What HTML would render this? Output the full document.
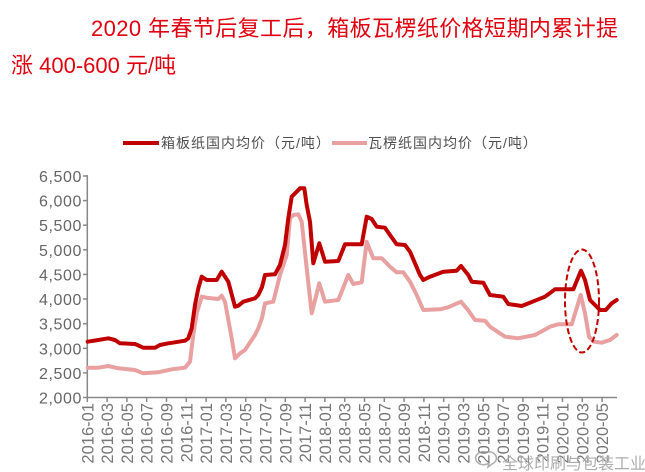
<!DOCTYPE html>
<html><head><meta charset="utf-8">
<style>
html,body{margin:0;padding:0;background:#fff;}
body{width:645px;height:472px;overflow:hidden;position:relative;}
svg{position:absolute;left:0;top:0;}
</style></head>
<body>
<svg width="645" height="472" viewBox="0 0 645 472" xmlns="http://www.w3.org/2000/svg">
<g font-family="Liberation Sans, Noto Sans CJK SC, sans-serif" fill="#e00010" font-size="22">
<text x="91" y="36" letter-spacing="0.4">2020 年春节后复工后，箱板瓦楞纸价格短期内累计提</text>
<text x="11" y="73">涨 400-600 元/吨</text>
</g>
<!-- legend -->
<line x1="123" y1="143" x2="159" y2="143" stroke="#c00000" stroke-width="4"/>
<text x="161" y="148" font-family="Liberation Sans, Noto Sans CJK SC, sans-serif" font-size="14" letter-spacing="1" fill="#505050">箱板纸国内均价（元/吨）</text>
<line x1="332" y1="143" x2="367" y2="143" stroke="#e8a0a0" stroke-width="4"/>
<text x="368" y="148" font-family="Liberation Sans, Noto Sans CJK SC, sans-serif" font-size="14" letter-spacing="1" fill="#505050">瓦楞纸国内均价（元/吨）</text>
<!-- y axis -->
<g font-family="Liberation Sans, sans-serif" font-size="16" fill="#666" text-anchor="end" letter-spacing="0.6">
<text x="82" y="182">6,500</text>
<text x="82" y="206.6">6,000</text>
<text x="82" y="231.2">5,500</text>
<text x="82" y="255.8">5,000</text>
<text x="82" y="280.4">4,500</text>
<text x="82" y="305">4,000</text>
<text x="82" y="329.7">3,500</text>
<text x="82" y="354.3">3,000</text>
<text x="82" y="378.9">2,500</text>
<text x="82" y="403.5">2,000</text>
</g>
<g stroke="#888" stroke-width="1.5">
<line x1="87.3" y1="175" x2="87.3" y2="398"/>
<line x1="87.3" y1="397.5" x2="617" y2="397.5"/>
<line x1="83" y1="176" x2="87.3" y2="176"/>
<line x1="83" y1="200.6" x2="87.3" y2="200.6"/>
<line x1="83" y1="225.2" x2="87.3" y2="225.2"/>
<line x1="83" y1="249.8" x2="87.3" y2="249.8"/>
<line x1="83" y1="274.4" x2="87.3" y2="274.4"/>
<line x1="83" y1="299" x2="87.3" y2="299"/>
<line x1="83" y1="323.7" x2="87.3" y2="323.7"/>
<line x1="83" y1="348.3" x2="87.3" y2="348.3"/>
<line x1="83" y1="372.9" x2="87.3" y2="372.9"/>
<line x1="83" y1="397.5" x2="87.3" y2="397.5"/>
</g>
<g id="xt" stroke="#888" stroke-width="1.5"></g>
<g id="xl" font-family="Liberation Sans, sans-serif" font-size="16.5" fill="#777" text-anchor="end"></g>
<!-- series -->
<polyline fill="none" stroke="#e8a0a0" stroke-width="4" stroke-linejoin="round" stroke-linecap="round" points="87.7,367.7 98.3,367.7 108.3,366 118.3,368.3 135,370 143.3,373.3 158.3,372.3 171.7,369.3 185,367.7 190,361.7 193.3,335 196.7,313.3 201.7,296.7 206.7,297.7 218.3,299 221.7,295.7 225,301.7 231.7,338.3 235,358.3 240,353.3 245,350 255,335 258.3,328.3 262,318 265,303.3 273.3,301.7 280,275 286.7,255 290,218.3 293.3,215 298.3,214.3 301.7,221.7 306.7,268.3 311.7,313.3 319.3,283.3 325,301.7 338.3,300 348.3,275 353.3,284 361.7,282.3 366.7,241.7 373.3,258.3 381.7,258.3 390,266.7 396.7,272.3 403.3,272.3 410,281.7 416.7,295 423.3,310 440,309.3 448,307.3 461,301.7 468,310 475,320 485,320.7 490,326.7 505,336.7 518,338.3 535,335 550,326.7 558,324.3 571.7,324.3 580.7,295 585,313.3 589,336.7 594,341.7 601.7,342.7 610,340 616.7,335"/>
<polyline fill="none" stroke="#c00000" stroke-width="4" stroke-linejoin="round" stroke-linecap="round" points="87.7,341.7 98.3,340 108.3,338.3 115,340 120,343.3 135,344 143.3,347.7 155,347.7 160,345 168.3,343.3 175,342.3 185,340.7 188.3,338.3 191.7,328.3 195,305 198.3,288.3 201.7,276.7 206.7,280 216.7,280 221.7,271.7 228.3,281.7 235,306.7 238.3,305.7 243.3,301.7 255,298.3 258.3,295 262,287 265,275 275,274.3 280,265 285,245 288.3,218.3 291.7,196.7 296.7,191.7 300,188.3 304.3,188.3 306.7,205 310,221.7 313.3,263.3 319.3,243.3 325,261.7 338.3,261 345,244.3 361.7,244.3 366.7,216.7 371.7,219 376.7,226.7 385,227.7 390,235 396.7,244.3 405,245 410,251.7 415,263.3 420,275 423.3,280 430,276.7 443.3,271.7 456.7,270.7 461,266 468.3,275 471.7,281.7 483.3,282.7 490,295 503.3,296.7 508.3,304 521.7,306 535,300.7 545,296.7 555,289.3 573.3,289.3 581,270.7 585,280 590,300 595,305 600,310 605.7,310 611.7,303.3 616.7,300"/>
<ellipse cx="582" cy="301" rx="17" ry="51.5" fill="none" stroke="#c00000" stroke-width="2" stroke-dasharray="6 3"/>
<!-- watermark -->
<g opacity="0.8">
<path d="M486,452 a8,6.5 0 1,0 3,11 l-1,4 l4,-3 a8,6.5 0 0,0 -6,-12z" fill="none" stroke="#999" stroke-width="1.5"/>
<text x="502" y="469" font-family="Liberation Sans, Noto Sans CJK SC, sans-serif" font-size="16" fill="#999" stroke="#fff" stroke-width="0.6" paint-order="stroke">全球印刷与包装工业</text>
</g>
</svg>
<script>
(function(){
var ns="http://www.w3.org/2000/svg";
var xt=document.getElementById('xt'), xl=document.getElementById('xl');
var i=0;
for(var y=2016;y<=2020;y++){
 for(var m=1;m<=11;m+=2){
  if(y===2020 && m>5) break;
  var x=87.3+i*19.8;
  var l=document.createElementNS(ns,'line');
  l.setAttribute('x1',x);l.setAttribute('x2',x);l.setAttribute('y1',397.5);l.setAttribute('y2',402);
  xt.appendChild(l);
  var t=document.createElementNS(ns,'text');
  var tx=x+6, ty=403;
  t.setAttribute('x',tx);t.setAttribute('y',ty);
  t.setAttribute('transform','rotate(-90 '+tx+' '+ty+')');
  t.textContent=y+'-'+(m<10?'0':'')+m;
  xl.appendChild(t);
  i++;
 }
}
})();
</script>
</body></html>
